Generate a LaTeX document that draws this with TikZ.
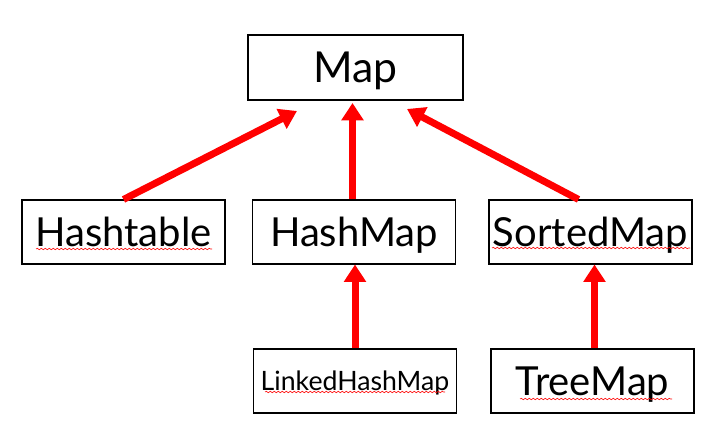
\documentclass[tikz,border=0pt]{standalone}
\usepackage{fontspec}
\setmainfont{Lato}
\usetikzlibrary{arrows.meta,decorations.pathmorphing,positioning}

\begin{document}
\begin{tikzpicture}[x=0.75pt,y=-0.75pt,>={Triangle[length=13pt,width=16pt]}]
  \tikzstyle{cls}=[rectangle,draw=black,line width=0.8pt,inner sep=0pt,
                   minimum width=152.25pt,minimum height=48pt,text depth=0pt]
  \tikzstyle{big}=[font=\fontsize{30}{34}\selectfont,text height=21.5pt]
  \tikzstyle{inh}=[->,red,line width=5.25pt]
  \tikzstyle{squig}=[red,line width=0.45pt,decorate,
                     decoration={snake,amplitude=0.5pt,segment length=3pt}]

  \useasboundingbox (0,0) rectangle (722,442);

  % Top.
  \node [cls,minimum width=161.25pt,minimum height=48.75pt,
         font=\fontsize{32}{36}\selectfont,text height=23pt] (m) at (355.5,67.5) {Map};

  % Second row.
  \node [cls,big] (c1) at (123.5,232) {Hashtable};
  \node [cls,big] (c2) at (354,232)   {HashMap};
  \node [cls,big] (c3) at (590.5,232) {SortedMap};

  % Third row.
  \node [cls,font=\fontsize{20}{24}\selectfont,text height=14.3pt] (l2) at (355,381) {LinkedHashMap};
  \node [cls,big] (l3) at (592.5,381) {TreeMap};

  % spell check marks
  \draw [squig] (36,249) -- (212,249);
  \draw [squig] (492,248) -- (690,248);
  \draw [squig] (265,392) -- (445,392);
  \draw [squig] (520,399) -- (672,399);

  \coordinate (t1) at (297,111);
  \coordinate (t2) at (352.5,103);
  \coordinate (t3) at (407,109);

  \path (c1.north) edge [inh] (t1);
  \path (c2.north -| t2) edge [inh] (t2);
  \path ([xshift=-9pt]c3.north) edge [inh] (t3);
  \path (l2.north) edge [inh] (l2.north |- c2.south);
  \path ([xshift=1.5pt]l3.north) edge [inh] ([xshift=1.5pt]l3.north |- c3.south);
\end{tikzpicture}
\end{document}
